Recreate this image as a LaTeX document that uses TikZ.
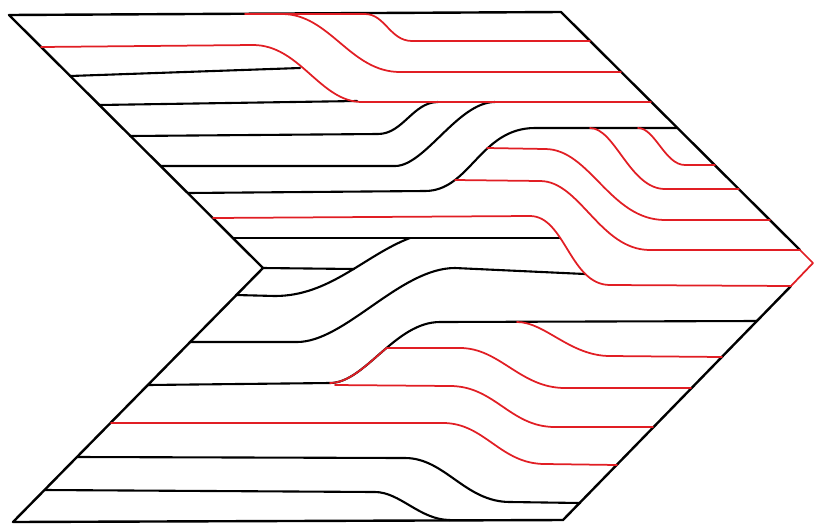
\documentclass[tikz,border=0pt]{standalone}
\definecolor{faultred}{RGB}{225,30,36}
\begin{document}
\begin{tikzpicture}[x=1pt,y=-1pt,line cap=round,line join=round,
  blk/.style={draw=black,line width=2.1pt},
  rd/.style={draw=faultred,line width=1.75pt},
  rim/.style={draw=black,line width=2.4pt}]
\useasboundingbox (0,0) rectangle (814,523);
\coordinate (tl) at (9,15);
\coordinate (tr) at (561,12);
\coordinate (rs) at (800,250);
\coordinate (tip) at (813,263);
\coordinate (re) at (791,286);
\coordinate (br) at (563,520);
\coordinate (bl) at (13,522);
\coordinate (notch) at (263,268);
% outline
\draw[rim] (rs) -- (tr) -- (tl) -- (notch) -- (bl) -- (br) -- (re);
% black layers
\draw[blk] (70,76) -- (300,68);
\draw[blk] (99,105) -- (357,101);
\draw[blk] (130,136) -- (378,134) .. controls (403,134) and (413,102) .. (438,102);
\draw[blk] (161,166) -- (395,166) .. controls (425,166) and (458,102) .. (495,102);
\draw[blk] (188,193) -- (425,191) .. controls (470,191) and (480,128) .. (535,128) -- (677,128);
\draw[blk] (233,238) -- (560,238);
\draw[blk] (notch) -- (354,269);
\draw[blk] (236,295) -- (275,296) .. controls (330,296) and (365,255) .. (410,238);
\draw[blk] (190,342) -- (297,342) .. controls (345,342) and (400,268) .. (455,268) -- (585,274);
\draw[blk] (148,385) -- (330,383) .. controls (365,383) and (395,322) .. (440,322) -- (757,321);
\draw[blk] (77,457) -- (405,458) .. controls (445,458) and (465,502) .. (510,502) -- (580,503);
\draw[blk] (45,490) -- (375,492) .. controls (400,492) and (420,520) .. (450,520);
% red layers
\draw[rd] (245,14) -- (282,14) .. controls (330,14) and (350,72) .. (400,72) -- (621,72);
\draw[rd] (282,14) -- (365,14) .. controls (385,14) and (390,41) .. (412,41) -- (590,41);
\draw[rd] (41,47) -- (253,45) .. controls (300,45) and (320,102) .. (362,102) -- (651,102);
\draw[rd] (487,148) -- (545,149) .. controls (590,149) and (610,220) .. (665,220) -- (770,220);
\draw[rd] (455,180) -- (540,181) .. controls (580,181) and (600,250) .. (650,250) -- (rs) -- (tip) -- (re);
\draw[rd] (638,128) .. controls (655,128) and (665,165) .. (685,165) -- (715,165);
\draw[rd] (590,128) .. controls (615,128) and (630,189) .. (665,189) -- (739,189);
\draw[rd] (213,218) -- (530,216) .. controls (565,216) and (570,285) .. (610,285) -- (re);
\draw[rd] (330,383) .. controls (349.25,383) and (367,364.55) .. (386.5,348) -- (460,348) .. controls (500,348) and (520,388) .. (565,388) -- (691,388);
\draw[rd] (335,385) -- (450,386) .. controls (495,386) and (510,427) .. (555,427) -- (653,427);
\draw[rd] (517,322) .. controls (545,322) and (570,356) .. (610,356) -- (722,357);
\draw[rd] (111,423) -- (443,423) .. controls (485,423) and (500,464) .. (545,464) -- (617,465);
\end{tikzpicture}
\end{document}
